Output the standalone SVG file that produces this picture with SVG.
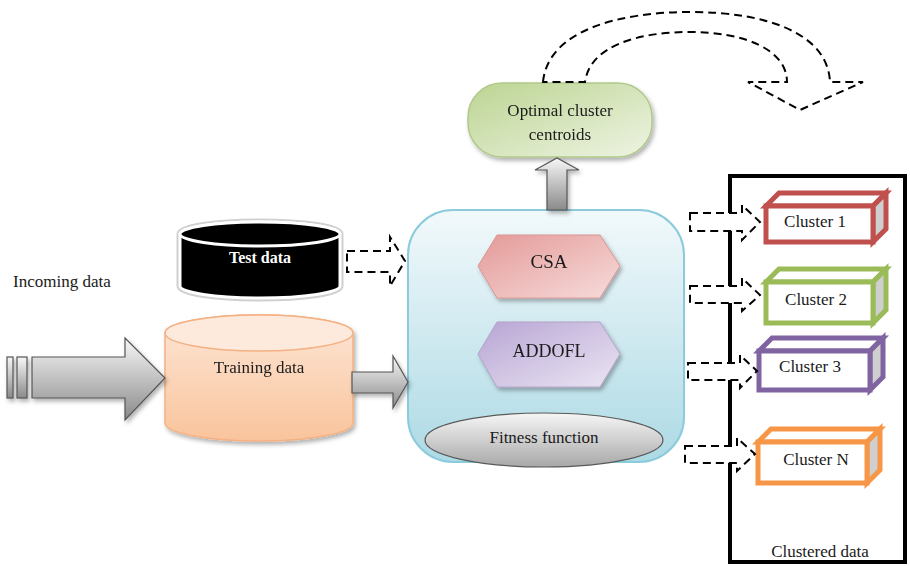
<svg xmlns="http://www.w3.org/2000/svg" width="910" height="566" viewBox="0 0 910 566">
  <style>
    text { font-family: "Liberation Serif", "Times New Roman", serif; fill: #1a1a1a; font-size: 17px; }
    .mid { text-anchor: middle; }
    .dash { fill: #fff; stroke: #000; stroke-width: 2; stroke-dasharray: 8 5; }
    .dashfree { fill: none; stroke: #000; stroke-width: 2; stroke-dasharray: 8 5; }
    .block { fill: url(#grayV); stroke: #555; stroke-width: 1.2; }
    .front { fill: #fff; stroke-width: 5; stroke-linejoin: miter; }
    .side { fill: #cfcfcf; stroke-width: 5; stroke-linejoin: miter; }
  </style>
  <defs>
    <linearGradient id="grayV" x1="0" y1="0" x2="0" y2="1">
      <stop offset="0" stop-color="#f7f7f7"/>
      <stop offset="1" stop-color="#8a8a8a"/>
    </linearGradient>
    <linearGradient id="blueV" x1="0" y1="0" x2="0" y2="1">
      <stop offset="0" stop-color="#f2f9fb"/>
      <stop offset="1" stop-color="#addae5"/>
    </linearGradient>
    <linearGradient id="pinkD" x1="0" y1="0" x2="1" y2="1">
      <stop offset="0" stop-color="#e49a98"/>
      <stop offset="1" stop-color="#f6dcdb"/>
    </linearGradient>
    <linearGradient id="purpleD" x1="0" y1="0" x2="1" y2="1">
      <stop offset="0" stop-color="#b8a5d4"/>
      <stop offset="1" stop-color="#ebe5f3"/>
    </linearGradient>
    <linearGradient id="greenD" x1="0" y1="0" x2="1" y2="1">
      <stop offset="0" stop-color="#bcd492"/>
      <stop offset="1" stop-color="#eef4e3"/>
    </linearGradient>
    <linearGradient id="peachV" x1="0" y1="0" x2="0" y2="1">
      <stop offset="0" stop-color="#fde6d6"/>
      <stop offset="1" stop-color="#f9c49c"/>
    </linearGradient>
    <linearGradient id="greyEll" x1="0" y1="0" x2="0" y2="1">
      <stop offset="0" stop-color="#f6f6f6"/>
      <stop offset="1" stop-color="#a8a8a8"/>
    </linearGradient>
    <filter id="shadow" x="-10%" y="-10%" width="130%" height="140%">
      <feDropShadow dx="2" dy="3" stdDeviation="2" flood-color="#000" flood-opacity="0.3"/>
    </filter>
  </defs>

  <!-- frame holding the clusters -->
  <g id="clustered-data">
    <rect x="730" y="176" width="175" height="386" fill="#fff" stroke="#000" stroke-width="4"/>
    <text x="820" y="557" class="mid">Clustered data</text>
  </g>

  <!-- central processing block -->
  <g id="processing">
    <rect x="408" y="210" width="276" height="252" rx="45" fill="url(#blueV)" stroke="#8ccbdb" stroke-width="2"/>
  </g>
  <g id="csa" filter="url(#shadow)">
    <polygon points="478,266 497,235 600,235 620,266 600,298 497,298" fill="url(#pinkD)" stroke="#d99694" stroke-width="1"/>
    <text x="549" y="268" class="mid" style="font-size:19px">CSA</text>
  </g>
  <g id="addofl" filter="url(#shadow)">
    <polygon points="478,354 497,322 600,322 620,354 600,387 497,387" fill="url(#purpleD)" stroke="#b3a2c7" stroke-width="1"/>
    <text x="549" y="357" class="mid" style="font-size:18px">ADDOFL</text>
  </g>
  <g id="fitness">
    <ellipse cx="544" cy="440" rx="119" ry="27" fill="url(#greyEll)" stroke="#595959" stroke-width="1.2"/>
    <text x="544" y="443" class="mid">Fitness function</text>
  </g>

  <!-- result node -->
  <g id="centroids" filter="url(#shadow)">
    <rect x="468" y="83" width="184" height="74" rx="34" fill="url(#greenD)" stroke="#b0c98a" stroke-width="1.5"/>
    <text x="560" y="116" class="mid">Optimal cluster</text>
    <text x="560" y="140" class="mid">centroids</text>
  </g>

  <!-- data sources -->
  <g id="test-data">
    <path d="M180,234 A80,12 0 0 1 340,234 L340,286 A80,12 0 0 1 180,286 Z" fill="#000" stroke="#d0d0d0" stroke-width="7"/>
    <path d="M180,234 A80,12 0 0 1 340,234 L340,286 A80,12 0 0 1 180,286 Z" fill="#000" stroke="#fff" stroke-width="3"/>
    <ellipse cx="260" cy="234" rx="80" ry="12" fill="#000" stroke="#fff" stroke-width="3"/>
    <text x="260" y="263" class="mid" style="fill:#fff;font-weight:bold;font-size:16px">Test data</text>
  </g>
  <g id="training-data" filter="url(#shadow)">
    <path d="M165,333 A94,18 0 0 1 353,333 L353,423 A94,18 0 0 1 165,423 Z" fill="url(#peachV)" stroke="#f4b183" stroke-width="1.5"/>
    <ellipse cx="259" cy="333" rx="94" ry="18" fill="#fdeadc" stroke="#f4b183" stroke-width="1.5"/>
    <text x="259" y="373" class="mid">Training data</text>
  </g>
  <g id="incoming-label">
    <text x="13" y="287">Incoming data</text>
  </g>

  <!-- cluster boxes -->
  <g id="cluster-1" stroke="#c0504d">
    <polygon class="front" points="766,206 779,193 886,193 873,206"/>
    <polygon class="side" points="873,206 886,193 886,229 873,242"/>
    <rect class="front" x="766" y="206" width="107" height="36"/>
    <text x="815" y="227" class="mid" stroke="none">Cluster 1</text>
  </g>
  <g id="cluster-2" stroke="#9bbb59">
    <polygon class="front" points="766,282 779,269 886,269 873,282"/>
    <polygon class="side" points="873,282 886,269 886,310 873,323"/>
    <rect class="front" x="766" y="282" width="107" height="41"/>
    <text x="816" y="305" class="mid" stroke="none">Cluster 2</text>
  </g>
  <g id="cluster-3" stroke="#8064a2">
    <polygon class="front" points="759,351 772,338 883,338 870,351"/>
    <polygon class="side" points="870,351 883,338 883,377 870,390"/>
    <rect class="front" x="759" y="351" width="111" height="39"/>
    <text x="810" y="372" class="mid" stroke="none">Cluster 3</text>
  </g>
  <g id="cluster-n" stroke="#f79646">
    <polygon class="front" points="758,442 771,429 880,429 867,442"/>
    <polygon class="side" points="867,442 880,429 880,470 867,483"/>
    <rect class="front" x="758" y="442" width="109" height="41"/>
    <text x="816" y="465" class="mid" stroke="none">Cluster N</text>
  </g>

  <!-- connectors -->
  <g id="connectors">
    <g filter="url(#shadow)">
      <rect class="block" x="7" y="357" width="6" height="41"/>
      <rect class="block" x="17" y="357" width="10" height="41"/>
      <path class="block" d="M32,357 L125,357 L125,338 L165,378 L125,420 L125,398 L32,398 Z"/>
      <path class="block" d="M352,372 L393,372 L393,356 L408,382 L393,408 L393,393 L352,393 Z"/>
      <path class="block" d="M547,210 L547,170 L535,170 L557,158 L579,170 L567,170 L567,210 Z"/>
    </g>
    <path class="dash" d="M347,251 L390,251 L390,237 L405,261 L390,286 L390,272 L347,272 Z"/>
    <path class="dashfree" d="M543,82 C548,30 620,12 690,12 C770,12 828,35 830,82 L863,82 L800,110 L748,82 L787,82 C787,50 745,32 690,32 C640,32 590,45 585,82 Z"/>
    <path class="dash" d="M690,213 L742,213 L742,205 L760,222 L742,240 L742,231 L690,231 Z"/>
    <path class="dash" d="M690,286 L742,286 L742,278 L760,295 L742,311 L742,303 L690,303 Z"/>
    <path class="dash" d="M688,363 L740,363 L740,355 L757,371 L740,388 L740,380 L688,380 Z"/>
    <path class="dash" d="M685,446 L737,446 L737,438 L755,454 L737,471 L737,463 L685,463 Z"/>
  </g>
</svg>
